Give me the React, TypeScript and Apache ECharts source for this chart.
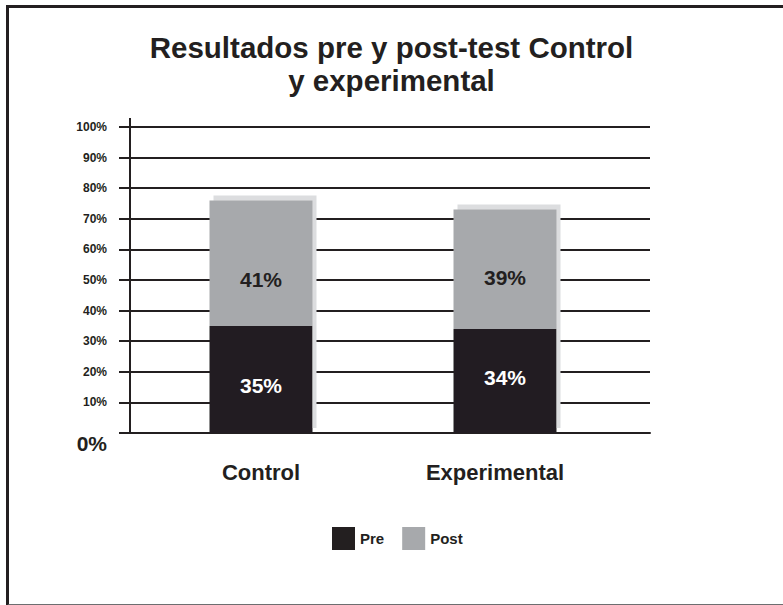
import React, { useEffect, useRef } from "react";
import * as echarts from "echarts";

const categories = ["Control", "Experimental"];
const preValues = [35, 34];
const postValues = [41, 39];
const yTicks = [0, 10, 20, 30, 40, 50, 60, 70, 80, 90, 100];
const titleText = "Resultados pre y post-test Control\ny experimental";
const seriesNames = ["Pre", "Post"];

// label nudges (styling only, in px)
const preLabelShift = [6, -3];
const postLabelShift = [16, 8];
const categoryLabelPadRight = [0, 20];

const DARK = "#231f20";
const GRAY = "#a7a9ac";
const SHADOW = "#dcdddf";
const FONT = "'Liberation Sans', Arial, sans-serif";

export default function App() {
  const ref = useRef<HTMLDivElement>(null);
  useEffect(() => {
    document.body.style.margin = "0";
    const chart = echarts.init(ref.current!, null, { renderer: "svg" });
    const shadowStyle = {
      shadowColor: SHADOW,
      shadowBlur: 0,
      shadowOffsetX: 4,
      shadowOffsetY: -5,
    };
    const labelBase = {
      show: true,
      position: "inside",
      formatter: "{c}%",
      fontFamily: FONT,
      fontSize: 21,
      fontWeight: "bold",
    };
    chart.setOption({
      animation: false,
      backgroundColor: "#ffffff",
      textStyle: { fontFamily: FONT },
      title: {
        text: titleText,
        left: "center",
        top: 26,
        textStyle: {
          fontFamily: FONT,
          fontSize: 29.5,
          fontWeight: "bold",
          color: DARK,
          lineHeight: 33,
        },
      },
      legend: {
        bottom: 50,
        left: 327,
        itemWidth: 23,
        itemHeight: 23,
        itemGap: 18,
        icon: "rect",
        data: seriesNames,
        itemStyle: { shadowBlur: 0, shadowOffsetX: 0, shadowOffsetY: 0, shadowColor: "transparent" },
        textStyle: { fontFamily: FONT, fontSize: 15, fontWeight: "bold", color: DARK },
      },
      grid: [
        { left: 130, right: 133, top: 127, bottom: 172 },
        { left: 139, width: 488, top: 127, bottom: 172 },
      ],
      xAxis: [
        {
          gridIndex: 0,
          type: "category",
          data: ["", ""],
          axisLine: { show: true, lineStyle: { color: DARK, width: 2 } },
          axisTick: { show: false },
          axisLabel: { show: false },
        },
        {
          gridIndex: 1,
          type: "category",
          data: categories.map((c, i) => ({
            value: c,
            textStyle: { padding: [0, categoryLabelPadRight[i], 0, 0] },
          })),
          axisLine: { show: false },
          axisTick: { show: false },
          axisLabel: {
            margin: 28,
            fontFamily: FONT,
            fontSize: 22,
            fontWeight: "bold",
            color: DARK,
          },
        },
      ],
      yAxis: [
        {
          gridIndex: 0,
          type: "value",
          min: yTicks[0],
          max: yTicks[yTicks.length - 1],
          interval: 10,
          axisLine: { show: true, lineStyle: { color: DARK, width: 2 } },
          axisTick: { show: true, inside: false, length: 11, lineStyle: { color: DARK, width: 2 } },
          splitLine: { show: true, lineStyle: { color: DARK, width: 2 } },
          axisLabel: {
            margin: 23,
            formatter: (v: number) => (v === 0 ? "{z|0%}" : "{a|" + v + "%}"),
            rich: {
              a: { fontFamily: FONT, fontSize: 12, fontWeight: "bold", color: DARK },
              z: {
                fontFamily: FONT,
                fontSize: 21,
                fontWeight: "bold",
                color: DARK,
                padding: [20, 0, 0, 0],
              },
            },
          },
        },
        {
          gridIndex: 1,
          type: "value",
          min: 0,
          max: 100,
          show: false,
          splitLine: { show: false },
        },
      ],
      series: [
        {
          name: seriesNames[0],
          type: "bar",
          stack: "total",
          xAxisIndex: 1,
          yAxisIndex: 1,
          barWidth: 103,
          data: preValues.map((v, i) => ({
            value: v,
            label: { offset: [0, preLabelShift[i]] },
          })),
          itemStyle: { color: DARK, ...shadowStyle },
          label: { ...labelBase, color: "#ffffff" },
        },
        {
          name: seriesNames[1],
          type: "bar",
          stack: "total",
          xAxisIndex: 1,
          yAxisIndex: 1,
          barWidth: 103,
          data: postValues.map((v, i) => ({
            value: v,
            label: { offset: [0, postLabelShift[i]] },
          })),
          itemStyle: { color: GRAY, ...shadowStyle },
          label: { ...labelBase, color: DARK },
        },
      ],
    });
    const top = chart.convertToPixel({ yAxisIndex: 0 }, 100) as number;
    chart.setOption({
      graphic: [
        {
          type: "line",
          shape: { x1: 130, y1: top - 9, x2: 130, y2: top },
          style: { stroke: DARK, lineWidth: 2 },
        },
      ],
    });
    return () => chart.dispose();
  }, []);
  return (
    <div style={{ position: "absolute", left: 0, top: 0, width: 783, height: 605 }}>
      <div ref={ref} style={{ position: "absolute", left: 0, top: 0, width: 783, height: 605 }} />
      <div
        style={{
          position: "absolute",
          left: 6,
          top: 5,
          width: 790,
          height: 596,
          borderTop: `3px solid ${DARK}`,
          borderLeft: `3px solid ${DARK}`,
          borderBottom: "2px solid #6d6e70",
          pointerEvents: "none",
        }}
      />
    </div>
  );
}
